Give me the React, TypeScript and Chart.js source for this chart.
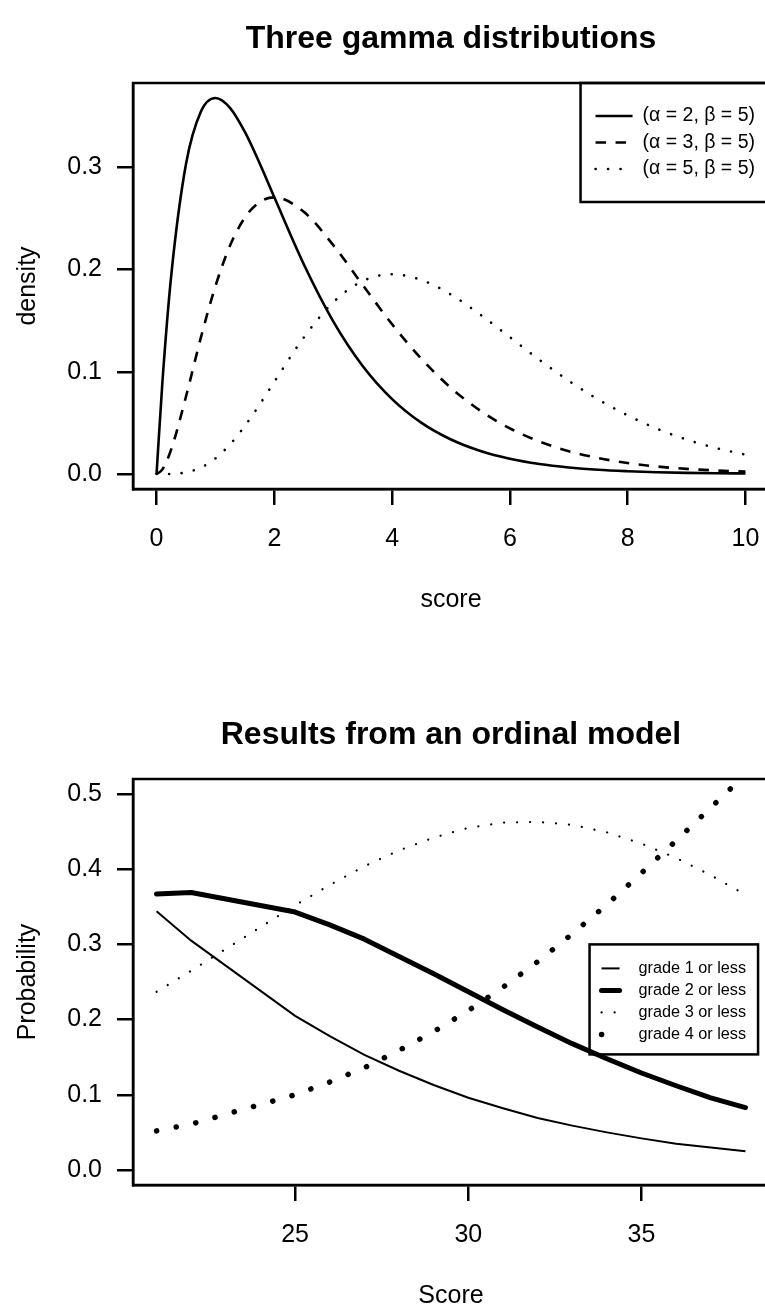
import { useEffect, useRef } from "react";
import { Chart, registerables } from "chart.js";

Chart.register(...registerables);

const FONT = '"Liberation Sans", Arial, Helvetica, sans-serif';

// ---- Panel 1: gamma densities ----
const gammaScore = [0, 0.1, 0.25, 0.5, 0.75, 1, 1.25, 1.5, 1.75, 2, 2.5, 3, 3.5, 4, 4.5, 5, 5.5, 6, 6.5, 7, 7.5, 8, 8.5, 9, 9.5, 10];
const densityShape2 = [0, 0.0905, 0.1947, 0.3033, 0.3543, 0.3679, 0.3581, 0.3347, 0.3041, 0.2707, 0.2052, 0.1494, 0.1057, 0.0733, 0.05, 0.0337, 0.0225, 0.0149, 0.0098, 0.0064, 0.0041, 0.0027, 0.0017, 0.0011, 0.0007, 0.0005];
const densityShape3 = [0, 0.0045, 0.0243, 0.0758, 0.1329, 0.1839, 0.2238, 0.251, 0.2661, 0.2707, 0.2565, 0.224, 0.185, 0.1465, 0.1125, 0.0842, 0.0618, 0.0446, 0.0318, 0.0223, 0.0156, 0.0107, 0.0073, 0.005, 0.0034, 0.0023];
const densityShape5 = [0, 0.0, 0.0001, 0.0016, 0.0062, 0.0153, 0.0291, 0.0471, 0.0679, 0.0902, 0.1336, 0.168, 0.1888, 0.1954, 0.1898, 0.1755, 0.1558, 0.1339, 0.1118, 0.0912, 0.0729, 0.0573, 0.0442, 0.0337, 0.0254, 0.0189];
const gammaLabels = ["(α = 2, β = 5)", "(α = 3, β = 5)", "(α = 5, β = 5)"];
const gammaXTicks = [0, 2, 4, 6, 8, 10];
const gammaYTicks = [0, 0.1, 0.2, 0.3];

// ---- Panel 2: ordinal model probabilities ----
const ordinalScore = [21, 22, 25, 26, 27, 28, 29, 30, 31, 32, 33, 34, 35, 36, 37, 38];
const probGrade1 = [0.344, 0.305, 0.205, 0.178, 0.153, 0.132, 0.113, 0.096, 0.082, 0.069, 0.059, 0.05, 0.042, 0.035, 0.03, 0.025];
const probGrade2 = [0.367, 0.369, 0.343, 0.326, 0.307, 0.284, 0.261, 0.237, 0.213, 0.19, 0.168, 0.148, 0.129, 0.112, 0.096, 0.083];
const probGrade3 = [0.237, 0.265, 0.352, 0.379, 0.404, 0.425, 0.442, 0.455, 0.462, 0.463, 0.459, 0.449, 0.434, 0.415, 0.392, 0.366];
const probGrade4 = [0.052, 0.061, 0.1, 0.117, 0.136, 0.159, 0.184, 0.212, 0.243, 0.277, 0.314, 0.353, 0.395, 0.438, 0.482, 0.526];
const ordinalLabels = ["grade 1 or less", "grade 2 or less", "grade 3 or less", "grade 4 or less"];
const ordinalXTicks = [25, 30, 35];
const ordinalYTicks = [0, 0.1, 0.2, 0.3, 0.4, 0.5];

const CANVAS_W = 902;
const CANVAS_H = 696;

const pairs = (xs: number[], ys: number[]) => xs.map((x, i) => ({ x, y: ys[i] }));

// Box around the plotting region
const framePlugin = {
  id: "frame",
  afterDatasetsDraw(chart: any) {
    const { ctx, chartArea: a } = chart;
    ctx.save();
    ctx.lineWidth = 2.5;
    ctx.strokeStyle = "#000";
    ctx.strokeRect(a.left, a.top, a.right - a.left, a.bottom - a.top);
    ctx.restore();
  },
};

// Main heading centred over the plotting region
const headingPlugin = {
  id: "heading",
  afterDraw(chart: any, _args: any, opts: any) {
    const { ctx, chartArea: a } = chart;
    ctx.save();
    ctx.font = `bold ${opts.size}px ${FONT}`;
    ctx.fillStyle = "#000";
    ctx.textAlign = "center";
    ctx.textBaseline = "middle";
    ctx.fillText(opts.text, (a.left + a.right) / 2, opts.y);
    ctx.restore();
  },
};

// Boxed legend with line samples taken from the datasets
const boxLegendPlugin = {
  id: "boxLegend",
  afterDraw(chart: any, _args: any, opts: any) {
    const { ctx, chartArea: a, scales } = chart;
    const datasets = chart.data.datasets;
    ctx.save();
    ctx.font = `${opts.size}px ${FONT}`;
    let maxW = 0;
    datasets.forEach((d: any) => (maxW = Math.max(maxW, ctx.measureText(d.label).width)));
    const width = opts.textStart + maxW + opts.padRight;
    const height = opts.firstRow * 2 + opts.rowGap * (datasets.length - 1) - (opts.bottomTrim || 0);
    let left: number;
    let top: number;
    if (opts.anchor === "topright") {
      left = a.right - width;
      top = a.top;
    } else {
      left = scales.x.getPixelForValue(opts.anchor.x);
      top = scales.y.getPixelForValue(opts.anchor.y);
    }
    ctx.lineWidth = 2.5;
    ctx.strokeStyle = "#000";
    ctx.strokeRect(left, top, width, height);
    datasets.forEach((d: any, i: number) => {
      const y = top + opts.firstRow + i * opts.rowGap;
      ctx.save();
      ctx.beginPath();
      ctx.lineWidth = d.borderWidth;
      ctx.strokeStyle = d.borderColor;
      ctx.lineCap = d.borderCapStyle || "butt";
      ctx.setLineDash(d.borderDash || []);
      ctx.moveTo(left + opts.sampleStart, y);
      ctx.lineTo(left + opts.sampleEnd, y);
      ctx.stroke();
      ctx.restore();
      ctx.fillStyle = "#000";
      ctx.textAlign = "left";
      ctx.textBaseline = "middle";
      ctx.fillText(d.label, left + opts.textStart, y);
    });
    ctx.restore();
  },
};

function axes(
  xRange: [number, number],
  xTicks: number[],
  xTitle: string,
  yRange: [number, number],
  yTicks: number[],
  yTitle: string
) {
  const tickFont = { family: FONT, size: 25 };
  const grid = { display: true, drawOnChartArea: false, drawTicks: true, tickLength: 16, color: "#000", lineWidth: 2.5 };
  const border = { display: true, color: "#000", width: 2.5 };
  return {
    x: {
      type: "linear" as const,
      position: "bottom" as const,
      min: xRange[0],
      max: xRange[1],
      grid,
      border,
      afterBuildTicks: (s: any) => {
        s.ticks = xTicks.map((v) => ({ value: v }));
      },
      afterFit: (s: any) => {
        s.height = 207;
      },
      ticks: {
        font: tickFont,
        color: "#000",
        padding: 19,
        maxRotation: 0,
        autoSkip: false,
        callback: (v: any) => String(v),
      },
      title: { display: true, text: xTitle, color: "#000", font: { family: FONT, size: 25 }, padding: { top: 0, bottom: 81 } },
    },
    y: {
      type: "linear" as const,
      position: "left" as const,
      min: yRange[0],
      max: yRange[1],
      grid,
      border,
      afterBuildTicks: (s: any) => {
        s.ticks = yTicks.map((v) => ({ value: v }));
      },
      afterFit: (s: any) => {
        s.width = 133;
      },
      ticks: {
        font: tickFont,
        color: "#000",
        padding: 15,
        autoSkip: false,
        callback: (v: any) => Number(v).toFixed(1),
      },
      title: { display: true, text: yTitle, color: "#000", font: { family: FONT, size: 25 }, padding: { top: 13, bottom: 0 } },
    },
  };
}

const baseOptions = {
  responsive: false,
  animation: false as const,
  devicePixelRatio: 1,
  events: [] as any[],
  layout: { padding: { top: 83, right: CANVAS_W - 769, left: 0, bottom: 0 } },
};

function gammaConfig(): any {
  const line = { borderColor: "#000", borderWidth: 2.6, pointRadius: 0, fill: false, cubicInterpolationMode: "monotone" };
  return {
    type: "line",
    data: {
      datasets: [
        { ...line, label: gammaLabels[0], data: pairs(gammaScore, densityShape2) },
        { ...line, label: gammaLabels[1], data: pairs(gammaScore, densityShape3), borderDash: [10.5, 9.5] },
        { ...line, label: gammaLabels[2], data: pairs(gammaScore, densityShape5), borderDash: [0.1, 12.4], borderCapStyle: "round" },
      ],
    },
    options: {
      ...baseOptions,
      scales: axes([-0.4, 10.4], gammaXTicks, "score", [-0.0147, 0.3826], gammaYTicks, "density"),
      plugins: {
        legend: { display: false },
        tooltip: { enabled: false },
        heading: { text: "Three gamma distributions", size: 32, y: 39 },
        boxLegend: { anchor: "topright", size: 19.5, firstRow: 33, rowGap: 26.5, sampleStart: 15, sampleEnd: 52, textStart: 62, padRight: 14 },
      },
    },
    plugins: [framePlugin, headingPlugin, boxLegendPlugin],
  };
}

function ordinalConfig(): any {
  const line = { borderColor: "#000", pointRadius: 0, fill: false, tension: 0 };
  return {
    type: "line",
    data: {
      datasets: [
        { ...line, label: ordinalLabels[0], data: pairs(ordinalScore, probGrade1), borderWidth: 2 },
        { ...line, label: ordinalLabels[1], data: pairs(ordinalScore, probGrade2), borderWidth: 5, borderCapStyle: "round", borderJoinStyle: "round" },
        { ...line, label: ordinalLabels[2], data: pairs(ordinalScore, probGrade3), borderWidth: 2.2, borderDash: [0.1, 12.9], borderCapStyle: "round" },
        { ...line, label: ordinalLabels[3], data: pairs(ordinalScore, probGrade4), borderWidth: 5.5, borderDash: [0.1, 19.9], borderCapStyle: "round" },
      ],
    },
    options: {
      ...baseOptions,
      scales: axes([20.32, 38.68], ordinalXTicks, "Score", [-0.02, 0.52], ordinalYTicks, "Probability"),
      plugins: {
        legend: { display: false },
        tooltip: { enabled: false },
        heading: { text: "Results from an ordinal model", size: 32, y: 39 },
        boxLegend: { anchor: { x: 33.5, y: 0.3 }, size: 16.25, firstRow: 24, rowGap: 22, bottomTrim: 4, sampleStart: 12, sampleEnd: 30, textStart: 49, padRight: 12 },
      },
    },
    plugins: [framePlugin, headingPlugin, boxLegendPlugin],
  };
}

function Panel({ makeConfig, top }: { makeConfig: () => any; top: number }) {
  const ref = useRef<HTMLCanvasElement>(null);
  useEffect(() => {
    const chart = new Chart(ref.current as HTMLCanvasElement, makeConfig());
    return () => chart.destroy();
  }, [makeConfig]);
  return (
    <canvas
      ref={ref}
      width={CANVAS_W}
      height={CANVAS_H}
      style={{ position: "absolute", left: 0, top, width: CANVAS_W, height: CANVAS_H, display: "block" }}
    />
  );
}

export default function App() {
  return (
    <div
      style={{
        position: "absolute",
        left: 0,
        top: 0,
        width: 765,
        height: 1312,
        overflow: "hidden",
        background: "#fff",
      }}
    >
      <Panel makeConfig={gammaConfig} top={0} />
      <Panel makeConfig={ordinalConfig} top={696} />
    </div>
  );
}
